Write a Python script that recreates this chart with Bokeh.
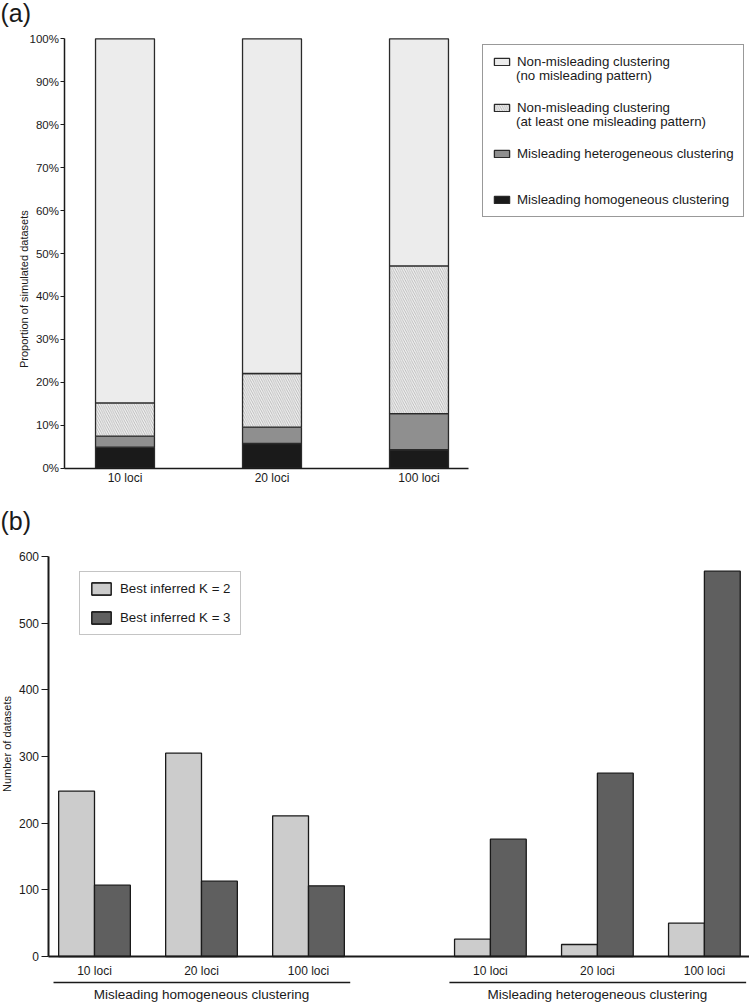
import numpy as np
from bokeh.plotting import figure
from bokeh.layouts import column
from bokeh.models import Range1d, Legend, LegendItem, FixedTicker, PrintfTickFormatter
from bokeh.core.properties import value
from bokeh.embed import file_html
from bokeh.resources import INLINE

FONT = "Liberation Sans"
INK = "#1a1a1a"

# ---------------- data: panel (a) ----------------
loci_a = ["10 loci", "20 loci", "100 loci"]
pct_homogeneous = [4.9, 5.75, 4.3]          # Misleading homogeneous clustering
pct_heterogeneous = [2.55, 3.8, 8.4]         # Misleading heterogeneous clustering
pct_nonmis_pattern = [7.75, 12.5, 34.4]      # Non-misleading (at least one misleading pattern)
pct_nonmis_clean = [84.8, 77.95, 52.9]       # Non-misleading (no misleading pattern)
a_ticks = list(range(0, 101, 10))

# ---------------- data: panel (b) ----------------
loci_b = ["10 loci", "20 loci", "100 loci"]
group_names = ["Misleading homogeneous clustering", "Misleading heterogeneous clustering"]
homog_k2 = [248, 305, 211]
homog_k3 = [107, 113, 106]
heterog_k2 = [26, 18, 50]
heterog_k3 = [176, 275, 578]
b_ticks = list(range(0, 601, 100))


def style_axis(ax, line_w, label_size):
    ax.axis_line_color = INK
    ax.axis_line_width = line_w
    ax.major_tick_line_color = INK
    ax.major_tick_line_width = 1.2
    ax.minor_tick_line_color = None
    ax.major_tick_in = 0
    ax.major_label_text_font = FONT
    ax.major_label_text_color = INK
    ax.major_label_text_font_size = label_size


# ================= panel (a) =================
# whole figure is the plot frame; axes are pinned with fixed_location
W, HA, HB = 749, 490, 513
a_px_per_unit, a_px_per_pct = 147.0, 4.294
a_x0 = 1 - 124.5 / a_px_per_unit
a_y0 = -(HA - 467.7) / a_px_per_pct
a_axis_x = 1 + (63.5 - 124.5) / a_px_per_unit
a_axis_xend = 1 + (468 - 124.5) / a_px_per_unit

xa = [1, 2, 3]
pa = figure(width=W, height=HA,
            x_range=Range1d(a_x0, a_x0 + W / a_px_per_unit),
            y_range=Range1d(a_y0, a_y0 + HA / a_px_per_pct),
            output_backend="svg", toolbar_location=None,
            min_border=0, min_border_left=0, min_border_right=0,
            min_border_top=0, min_border_bottom=0)
pa.outline_line_color = None
pa.grid.visible = False

layers = [
    (pct_homogeneous, dict(fill_color="#1a1a1a")),
    (pct_heterogeneous, dict(fill_color="#8f8f8f")),
    (pct_nonmis_pattern, dict(fill_color="#f3f3f3", hatch_pattern="\\", hatch_color="#aaaaaa",
                              hatch_scale=4.5, hatch_weight=0.8)),
    (pct_nonmis_clean, dict(fill_color="#ececec")),
]
cum = np.zeros(len(loci_a))
rends_a = []
bw_a = 0.401
for vals, style in layers:
    top = cum + np.array(vals)
    r = pa.vbar(x=xa, width=bw_a, bottom=cum.tolist(), top=top.tolist(), line_color="#2a2a2a",
                line_width=1.3, **style)
    rends_a.append(r)
    cum = top

ghost = pa.vbar(x=[], width=bw_a, top=[], fill_alpha=0, line_alpha=0)

first_lines = ["Non-misleading clustering", "Non-misleading clustering",
               "Misleading heterogeneous clustering", "Misleading homogeneous clustering"]
second_lines = ["(no misleading pattern)", "(at least one misleading pattern)"]
leg_style = dict(glyph_width=19, glyph_height=9, label_standoff=6,
                 label_text_font=FONT, label_text_font_size="13.3px", label_text_color=INK,
                 spacing=31)
leg_a = Legend(items=[LegendItem(label=first_lines[0], renderers=[rends_a[3]]),
                      LegendItem(label=first_lines[1], renderers=[rends_a[2]]),
                      LegendItem(label=first_lines[2], renderers=[rends_a[1]]),
                      LegendItem(label=first_lines[3], renderers=[rends_a[0]])],
               location=(482, 273), padding=9,
               border_line_color="#333333", border_line_width=1.2, **leg_style)
leg_a2 = Legend(items=[LegendItem(label=t, renderers=[ghost]) for t in second_lines],
                location=(491, 361), padding=0, border_line_color=None,
                background_fill_alpha=0, **leg_style)
pa.add_layout(leg_a)
pa.add_layout(leg_a2)

ya = pa.yaxis[0]
ya.fixed_location = a_axis_x
ya.bounds = (0, 100)
ya.ticker = FixedTicker(ticks=a_ticks)
ya.formatter = PrintfTickFormatter(format="%d%%")
style_axis(ya, 1.5, "11.5px")
ya.major_tick_out = 4
ya.major_label_standoff = 1

xa_ax = pa.xaxis[0]
xa_ax.fixed_location = 0
xa_ax.bounds = (a_axis_x, a_axis_xend)
xa_ax.ticker = FixedTicker(ticks=xa)
xa_ax.major_label_overrides = {i: n for i, n in zip(xa, loci_a)}
style_axis(xa_ax, 1.5, "12px")
xa_ax.major_tick_out = 0
xa_ax.major_tick_line_color = None
xa_ax.major_label_standoff = 3

pa.text(x=[a_x0], y=[(467.7 - 12.5) / a_px_per_pct], text=["(a)"],
        text_font=value(FONT), text_font_size="25px", text_align="left",
        text_baseline="middle", text_color=INK)
pa.text(x=[1 + (23 - 124.5) / a_px_per_unit], y=[41.7],
        text=["Proportion of simulated datasets"], angle=np.pi / 2,
        text_font=value(FONT), text_font_size="11px", text_align="center",
        text_baseline="middle", text_color=INK)

# ================= panel (b) =================
b_px_per_unit, b_px_per_n = 107.0, 400.0 / 600.0
b_x0 = 1 - 94 / b_px_per_unit
b_y0 = -(1003 - 956) / b_px_per_n
b_axis_x = 1 + (47.5 - 94) / b_px_per_unit

gap = 0.7
pos_left = [1.0, 2.0, 3.0]
pos_right = [round(p + len(loci_b) + gap, 2) for p in pos_left]
bw_b = 0.335
pb = figure(width=W, height=HB,
            x_range=Range1d(b_x0, b_x0 + W / b_px_per_unit),
            y_range=Range1d(b_y0, b_y0 + HB / b_px_per_n),
            output_backend="svg", toolbar_location=None,
            min_border=0, min_border_left=0, min_border_right=0,
            min_border_top=0, min_border_bottom=0)
pb.outline_line_color = None
pb.grid.visible = False

bar_style = dict(line_color="#1a1a1a", line_width=1.3)
r2a = pb.vbar(x=[p - bw_b / 2 for p in pos_left], width=bw_b, top=homog_k2, bottom=0,
              fill_color="#cccccc", **bar_style)
r3a = pb.vbar(x=[p + bw_b / 2 for p in pos_left], width=bw_b, top=homog_k3, bottom=0,
              fill_color="#5f5f5f", **bar_style)
r2b = pb.vbar(x=[p - bw_b / 2 for p in pos_right], width=bw_b, top=heterog_k2, bottom=0,
              fill_color="#cccccc", **bar_style)
r3b = pb.vbar(x=[p + bw_b / 2 for p in pos_right], width=bw_b, top=heterog_k3, bottom=0,
              fill_color="#5f5f5f", **bar_style)

leg_b = Legend(items=[LegendItem(label="Best inferred K = 2", renderers=[r2a, r2b]),
                      LegendItem(label="Best inferred K = 3", renderers=[r3a, r3b])],
               location=(79, 368), padding=9, spacing=14,
               glyph_width=24, glyph_height=15, label_standoff=7,
               label_text_font=FONT, label_text_font_size="13.3px", label_text_color=INK,
               border_line_color="#8a8a8a", border_line_width=1.5)
pb.add_layout(leg_b)

yb = pb.yaxis[0]
yb.fixed_location = b_axis_x
yb.bounds = (0, 600)
yb.ticker = FixedTicker(ticks=b_ticks)
style_axis(yb, 2, "12px")
yb.major_tick_out = 7
yb.major_label_standoff = 2

xb = pb.xaxis[0]
all_pos = pos_left + pos_right
xb.fixed_location = 0
xb.bounds = (b_axis_x, b_x0 + W / b_px_per_unit)
xb.ticker = FixedTicker(ticks=all_pos)
xb.major_label_overrides = {p: n for p, n in zip(all_pos, loci_b + loci_b)}
style_axis(xb, 2, "12px")
xb.major_tick_out = 0
xb.major_tick_line_color = None
xb.major_label_standoff = 7

# group underlines and names below the axis
line_y = -(982 - 956) / b_px_per_n
name_y = -(994 - 956) / b_px_per_n
groups = (pos_left, pos_right)
pb.segment(x0=[g[0] - 0.383 for g in groups], x1=[g[-1] + 0.39 for g in groups],
           y0=[line_y] * 2, y1=[line_y] * 2, line_color=INK, line_width=1.6)
pb.text(x=[sum(g) / len(g) for g in groups], y=[name_y] * 2, text=group_names,
        text_font=value(FONT), text_font_size="13.5px", text_align="center",
        text_baseline="middle", text_color=INK)

pb.text(x=[b_x0], y=[(956 - 520.5) / b_px_per_n], text=["(b)"],
        text_font=value(FONT), text_font_size="25px", text_align="left",
        text_baseline="middle", text_color=INK)
pb.text(x=[1 + (6 - 94) / b_px_per_unit], y=[(956 - 743.5) / b_px_per_n],
        text=["Number of datasets"], angle=np.pi / 2,
        text_font=value(FONT), text_font_size="11px", text_align="center",
        text_baseline="middle", text_color=INK)

layout = column(pa, pb, spacing=0)
open("out.html", "w").write(file_html(layout, INLINE))
